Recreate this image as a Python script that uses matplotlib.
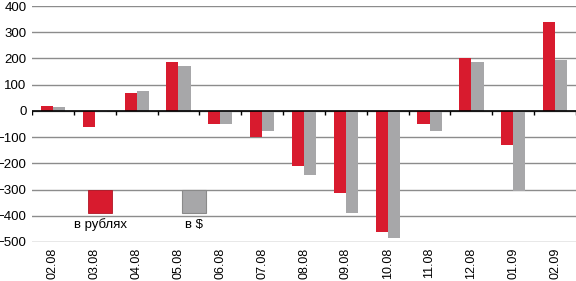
import numpy as np
import matplotlib.pyplot as plt
from matplotlib.patches import Rectangle

plt.rcParams['font.family'] = ['Liberation Sans', 'DejaVu Sans']

months = ['02.08', '03.08', '04.08', '05.08', '06.08', '07.08', '08.08',
          '09.08', '10.08', '11.08', '12.08', '01.09', '02.09']
rub = [20, -60, 70, 185, -50, -100, -210, -315, -462, -50, 200, -130, 340]
usd = [15, -5, 75, 170, -50, -75, -245, -390, -485, -75, 185, -305, 195]

red = '#d81b2e'
grey = '#a7a7a9'

fig = plt.figure(figsize=(5.76, 2.81), dpi=100)
ax = fig.add_axes([0.0556, 0.1388, 0.9444, 0.8398])

x = np.arange(len(months))
w = 0.29
ax.bar(x - w / 2, rub, w, color=red, zorder=3)
ax.bar(x + w / 2, usd, w, color=grey, zorder=3)

ax.set_xlim(-0.5, len(months) - 0.5)
ax.set_ylim(-500, 400)
ax.set_yticks(np.arange(-500, 401, 100))
ax.yaxis.grid(True, color='#8c8c8c', linewidth=1.0, zorder=0)
ax.axhline(0, color='black', linewidth=1.2, zorder=4)
# small ticks on the zero line between months
ax.vlines(np.arange(len(months) + 1) - 0.5, -16, 0, color='black', linewidth=1.0, zorder=4)

for s in ax.spines.values():
    s.set_visible(False)
ax.set_xticks(x)
ax.set_xticklabels(months, rotation=90)
ax.tick_params(axis='x', length=0, pad=4, labelsize=9)
ax.tick_params(axis='y', length=0, pad=4, labelsize=9.5)

# legend boxes
ax.add_patch(Rectangle((0.84, -390), 0.57, 90, facecolor=red, edgecolor='#b01525', lw=0.6, zorder=3))
ax.add_patch(Rectangle((3.08, -390), 0.57, 90, facecolor=grey, edgecolor='#8a8a8a', lw=0.8, zorder=3))
ax.text(1.125, -435, 'в рублях', ha='center', va='center', fontsize=9.5)
ax.text(3.37, -435, 'в $', ha='center', va='center', fontsize=9.5)

fig.savefig('out.png', dpi=100)
